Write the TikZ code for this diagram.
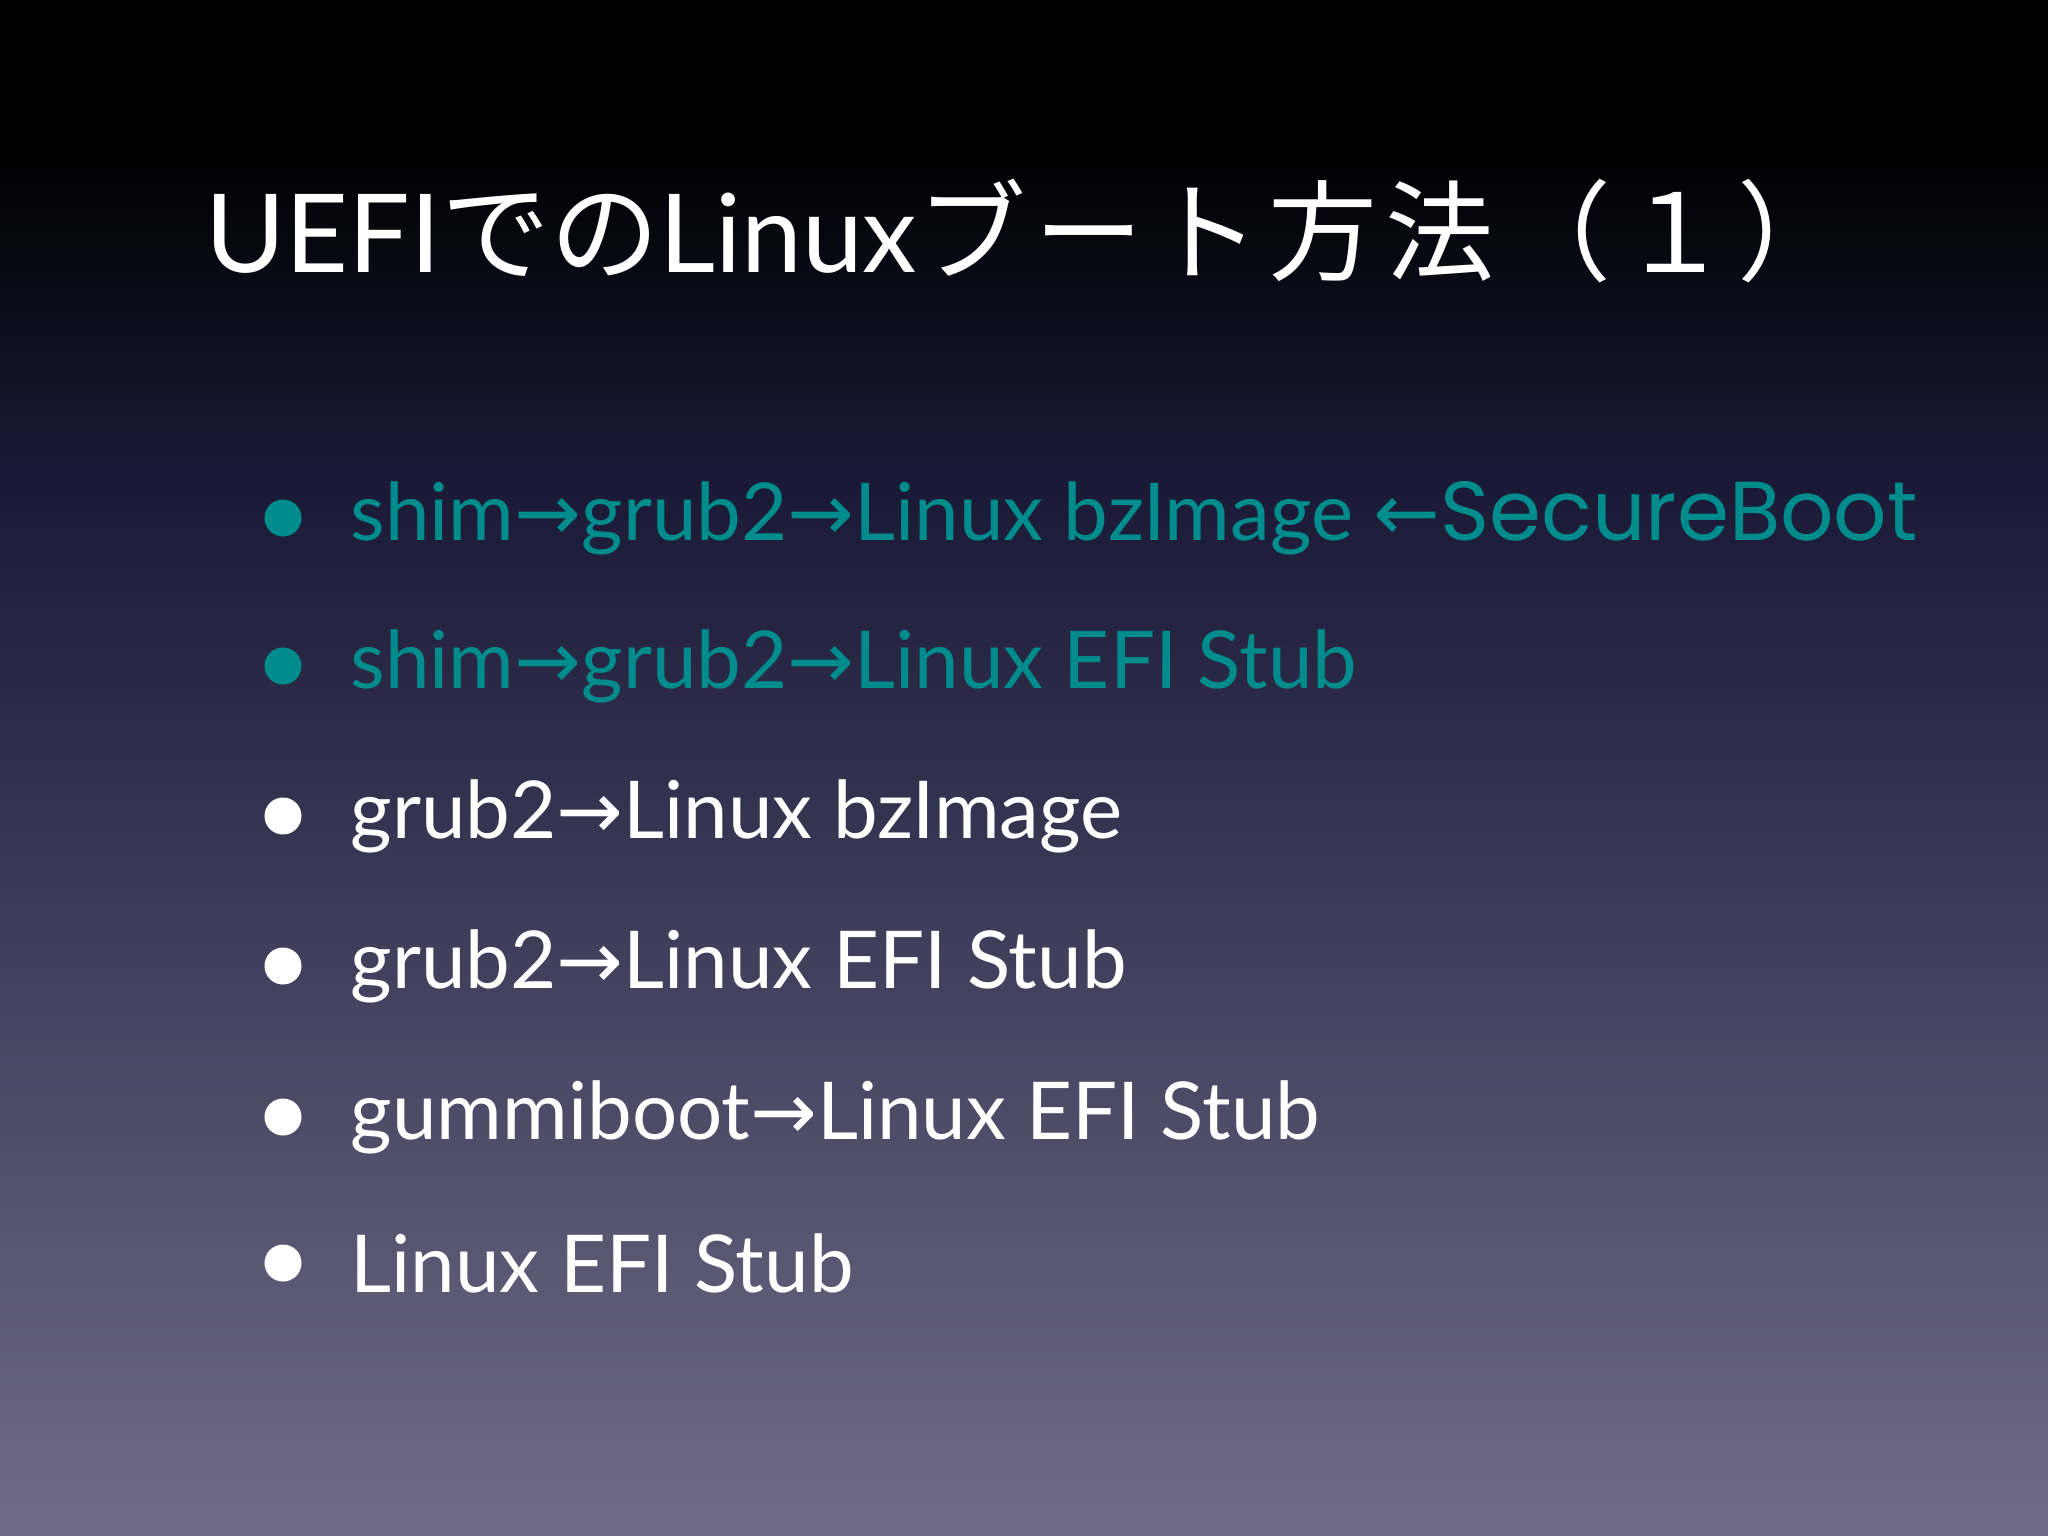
\documentclass[tikz,border=0pt]{standalone}
\usepackage{fontspec}
\setmainfont{Lato}
\newfontfamily\jp{Noto Sans CJK JP}
\newfontfamily\jpw[LetterSpace=7.5]{Noto Sans CJK JP}
\newfontfamily\arr{DejaVu Sans}
\newfontfamily\sbf{Poppins}
\definecolor{teal1}{RGB}{0,140,140}
\definecolor{bgtop}{RGB}{0,0,0}
\definecolor{bgmid}{RGB}{24,24,52}
\definecolor{bgbot}{RGB}{112,108,136}
\newcommand{\ra}{{\arr\char"2192}}
\newcommand{\la}{{\arr\char"2190}}
\begin{document}
\begin{tikzpicture}[x=0.01cm,y=-0.01cm,
  item/.style={anchor=west,font=\fontsize{22.7}{27}\selectfont,inner sep=0pt},
  dot/.style={circle,fill,inner sep=0pt,minimum size=0.37cm}]
\useasboundingbox (0,0) rectangle (2048,1536);
\fill[bgtop] (0,0) rectangle (2048,150);
\shade[top color=bgtop,bottom color=bgmid] (0,149) rectangle (2048,460);
\shade[top color=bgmid,bottom color=bgbot] (0,459) rectangle (2048,1536);
\node[anchor=base west,white,inner sep=0pt,font=\fontsize{31}{36}\selectfont] (title) at (205,272) {UEFI{\jp での}Linux{\jpw ブート方法（１）}};
\foreach \y/\c [count=\i] in {518/teal1,666/teal1,816/white,966/white,1117/white,1263/white}{
  \node[dot,\c] (b\i) at (283,\y) {};
}
\node[item,teal1] (t1) at (350,518) {shim\ra grub2\ra Linux bzImage \la{\sbf\fontsize{23.8}{27}\selectfont SecureBoot}};
\node[item,teal1] (t2) at (350,666) {shim\ra grub2\ra Linux EFI Stub};
\node[item,white] (t3) at (350,816) {grub2\ra Linux bzImage};
\node[item,white] (t4) at (350,966) {grub2\ra Linux EFI Stub};
\node[item,white] (t5) at (350,1117) {gummiboot\ra Linux EFI Stub};
\node[item,white] (t6) at (350,1263) {Linux EFI Stub};
\end{tikzpicture}
\end{document}
